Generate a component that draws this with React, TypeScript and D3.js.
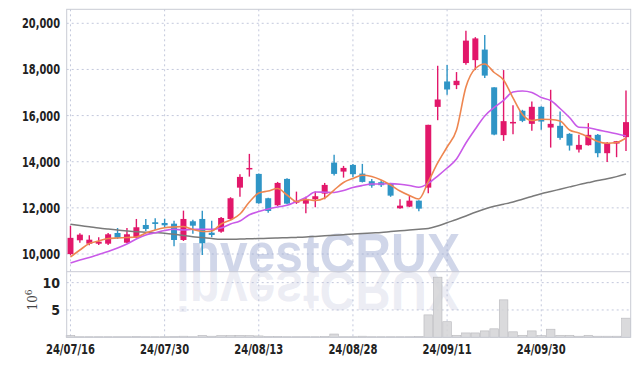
import React from "react";
import * as d3 from "d3";

// trading days shown (yy/mm/dd)
const dates = [
  "24/07/16", "24/07/17", "24/07/18", "24/07/19", "24/07/22", "24/07/23", "24/07/24", "24/07/25", "24/07/26", "24/07/29",
  "24/07/30", "24/07/31", "24/08/01", "24/08/02", "24/08/05", "24/08/06", "24/08/07", "24/08/08", "24/08/09", "24/08/12",
  "24/08/13", "24/08/14", "24/08/16", "24/08/19", "24/08/20", "24/08/21", "24/08/22", "24/08/23", "24/08/26", "24/08/27",
  "24/08/28", "24/08/29", "24/08/30", "24/09/02", "24/09/03", "24/09/04", "24/09/05", "24/09/06", "24/09/09", "24/09/10",
  "24/09/11", "24/09/12", "24/09/13", "24/09/19", "24/09/20", "24/09/23", "24/09/24", "24/09/25", "24/09/26", "24/09/27",
  "24/09/30", "24/10/02", "24/10/04", "24/10/07", "24/10/08", "24/10/10", "24/10/11", "24/10/14", "24/10/15", "24/10/16",
];

const opens = [
  10000, 10595, 10447, 10447, 10447, 10911, 10490, 10707, 11258, 11376,
  11345, 11315, 10608, 11419, 11519, 10924, 10968, 11519, 12877, 13711,
  13472, 12417, 12114, 13255, 12270, 12183, 12374, 12617, 13962, 13572,
  13862, 13485, 13155, 13112, 13038, 11983, 12053, 12313, 12877, 16377,
  17479, 17320, 18277, 18404, 18861, 17224, 15153, 15700, 16207, 15642,
  16380, 15482, 15556, 15208, 14526, 14717, 15165, 14370, 14787, 15065,
];
const highs = [
  11220, 10898, 10812, 10725, 10911, 11128, 11128, 11519, 11519, 11549,
  11530, 11445, 11880, 11489, 11880, 11445, 11606, 12461, 13459, 14340,
  13490, 12440, 13125, 13280, 12704, 12487, 12704, 13081, 14297, 13819,
  13906, 13906, 13255, 13200, 13081, 12374, 12517, 12330, 15599, 18159,
  18188, 17886, 19679, 19400, 19493, 17224, 17973, 16446, 16250, 16610,
  16400, 17118, 16176, 15240, 15165, 15672, 15200, 14850, 14900, 17087,
];
const lows = [
  9950, 10490, 10378, 10390, 10390, 10651, 10464, 10681, 10998, 11042,
  11128, 10334, 10564, 10881, 9957, 10725, 10924, 11476, 12487, 13355,
  12180, 11792, 12083, 12160, 12170, 11766, 12027, 12374, 13398, 13311,
  13329, 13100, 12877, 12900, 12480, 11960, 12030, 11853, 12634, 15800,
  16901, 17148, 18200, 17973, 17625, 15150, 14904, 15195, 15716, 15338,
  15382, 14613, 14948, 14483, 14396, 14700, 14197, 13993, 14197, 14470,
];
const closes = [
  10700, 10838, 10621, 10534, 10855, 10707, 10855, 11159, 11085, 11302,
  11245, 10608, 11519, 11228, 10464, 10825, 11562, 12417, 13342, 13730,
  12200, 11866, 13081, 12183, 12290, 12387, 12504, 12995, 13472, 13732,
  13459, 13125, 12964, 12982, 12530, 12096, 12313, 11966, 15599, 16697,
  17131, 17508, 19249, 19345, 17733, 15178, 15759, 15725, 15772, 16380,
  15742, 15642, 15034, 14700, 14730, 15165, 14370, 14804, 14890, 15716,
];

// moving averages
const maShort = [
  9870, 10173, 10455, 10564, 10672, 10694, 10715, 10737, 10910, 11040,
  11136, 11170, 11192, 11062, 10975, 10997, 11300, 11474, 11734, 12254,
  12644, 12731, 12839, 12558, 12276, 12363, 12319, 12428, 12774, 13100,
  13273, 13416, 13360, 13208, 12991, 12731, 12536, 12384, 13134, 13945,
  14638, 15375, 17239, 18041, 18237, 17868, 17543, 16763, 16047, 15787,
  15839, 15831, 15766, 15375, 15245, 15072, 14877, 14799, 14834, 15029,
];
const maMid = [
  9610, 9740, 9848, 9978, 10108, 10260, 10434, 10650, 10824, 10923,
  11019, 11071, 11040, 11075, 11075, 11075, 11127, 11301, 11431, 11704,
  11842, 11951, 12037, 12111, 12276, 12449, 12688, 12679, 12666, 12753,
  12883, 12969, 13035, 13035, 13052, 13026, 12969, 12891, 13065, 13381,
  13728, 14118, 14812, 15419, 15982, 16351, 16663, 17023, 17066, 17001,
  16784, 16654, 16307, 15917, 15492, 15475, 15380, 15297, 15210, 15115,
];
const maLong = [
  11288, 11231, 11179, 11123, 11079, 11040, 10997, 10962, 10945, 10923,
  10902, 10858, 10802, 10750, 10715, 10672, 10642, 10637, 10650, 10659,
  10672, 10681, 10694, 10707, 10720, 10737, 10763, 10789, 10811, 10837,
  10863, 10884, 10910, 10932, 10971, 11006, 11040, 11075, 11110, 11214,
  11357, 11496, 11647, 11808, 11951, 12068, 12159, 12254, 12376, 12493,
  12610, 12709, 12809, 12909, 13008, 13095, 13182, 13260, 13355, 13468,
];

// volume in millions of shares
const volumes = [
  0.35, 0.1, 0.1, 0.1, 0.1, 0.1, 0.1, 0.15, 0.1, 0.1,
  0.1, 0.15, 0.2, 0.1, 0.35, 0.2, 0.3, 0.3, 0.35, 0.3,
  0.25, 0.15, 0.15, 0.1, 0.1, 0.1, 0.1, 0.15, 0.6, 0.1,
  0.1, 0.2, 0.1, 0.1, 0.1, 0.1, 0.1, 0.15, 4.1, 11.0,
  2.85, 0.37, 0.8, 0.8, 1.17, 1.55, 6.85, 1.0, 0.37, 1.17,
  0.3, 1.48, 0.37, 0.37, 0.2, 0.37, 0.2, 0.2, 0.2, 3.5,
];

const priceTicks = [10000, 12000, 14000, 16000, 18000, 20000];
const volumeTicks = [5, 10];
const dateTickIdx = [0, 10, 20, 30, 40, 50];

const W = 639;
const H = 366;
const left = 66.7;
const right = 630.7;
const top = 9.3;
const split = 271.7;
const bottom = 337.3;

const UP = "#e2176a";
const DOWN = "#2f95c6";
const GRID = "#c3c8dc";
const FONT = "'Liberation Sans Narrow', 'DejaVu Sans Condensed', 'Roboto', sans-serif";

const App = () => {
  const x = d3.scaleLinear().domain([-0.4, 59.5]).range([left, right]);
  const y = d3.scaleLinear().domain([9233, 20607]).range([split, top]);
  const yv = d3.scaleLinear().domain([0, 12]).range([bottom, split]);

  const line = (vals: number[]) =>
    d3
      .line<number>()
      .x((_, i) => x(i))
      .y((d) => y(d))
      .curve(d3.curveMonotoneX)(vals) || "";

  const bodyW = 6;
  const volW = 8.6;
  const wmX = 318;

  return (
    <svg width={W} height={H} style={{ position: "absolute", left: 0, top: 0, background: "#fff" }}>
      <defs>
        <clipPath id="plot">
          <rect x={left} y={top} width={right - left} height={bottom - top} />
        </clipPath>
        <text id="wm" x={wmX} y={split} fontSize={56} textAnchor="middle" textLength={284}
          lengthAdjust="spacingAndGlyphs" fontFamily="'Liberation Sans', Arial, sans-serif"
          fontWeight="bold">investCRUX</text>
      </defs>

      {/* grid */}
      {priceTicks.map((t) => (
        <line key={"pg" + t} x1={left} x2={right} y1={y(t)} y2={y(t)} stroke={GRID} strokeDasharray="2,3" />
      ))}
      {volumeTicks.map((t) => (
        <line key={"vg" + t} x1={left} x2={right} y1={yv(t)} y2={yv(t)} stroke={GRID} strokeDasharray="2,3" />
      ))}
      {dateTickIdx.map((i) => (
        <line key={"xg" + i} x1={x(i)} x2={x(i)} y1={top} y2={bottom} stroke={GRID} strokeDasharray="2,3" />
      ))}

      {/* watermark + reflection */}
      <g clipPath="url(#plot)">
        <use href="#wm" fill="#97a3cf" fillOpacity={0.45} />
        <use href="#wm" fill="#a9aecf" fillOpacity={0.22}
          transform={`translate(0,${2 * split}) scale(1,-1)`} />
      </g>

      {/* volume */}
      {volumes.map((v, i) => (
        <rect key={"v" + i} x={x(i) - volW / 2} y={yv(v)} width={volW} height={yv(0) - yv(v)}
          fill="#d4d4d6" fillOpacity={0.85} stroke="#b8b8bc" strokeWidth={0.6} />
      ))}

      {/* candles */}
      {opens.map((o, i) => {
        const c = closes[i];
        const col = c >= o ? UP : DOWN;
        const yt = y(Math.max(o, c));
        const yb = y(Math.min(o, c));
        return (
          <g key={"c" + i}>
            <line x1={x(i)} x2={x(i)} y1={y(highs[i])} y2={y(lows[i])} stroke={col} strokeWidth={1.4} />
            <rect x={x(i) - bodyW / 2} y={yt} width={bodyW} height={Math.max(1.5, yb - yt)} fill={col} />
          </g>
        );
      })}

      {/* moving averages */}
      <path d={line(maLong)} fill="none" stroke="#7a7a7a" strokeWidth={1.5} />
      <path d={line(maMid)} fill="none" stroke="#c95ae8" strokeWidth={1.6} />
      <path d={line(maShort)} fill="none" stroke="#ee8650" strokeWidth={1.6} />

      {/* frame */}
      <rect x={left} y={top} width={right - left} height={bottom - top} fill="none" stroke="#c9cbd4" />
      <line x1={left} x2={right} y1={split} y2={split} stroke="#c9cbd4" />

      {/* axis labels */}
      <g fontFamily={FONT} fontWeight="bold" fontSize={14} fill="#222">
        {priceTicks.map((t) => (
          <text key={"pl" + t} x={60} y={y(t) + 5} textAnchor="end" textLength={38}
            lengthAdjust="spacingAndGlyphs">{d3.format(",")(t)}</text>
        ))}
        {volumeTicks.map((t) => (
          <text key={"vl" + t} x={60} y={yv(t) + 5} textAnchor="end">{t}</text>
        ))}
        {dateTickIdx.map((i) => (
          <text key={"dl" + i} x={x(i)} y={354} textAnchor="middle" textLength={49}
            lengthAdjust="spacingAndGlyphs">{dates[i]}</text>
        ))}
      </g>
      <text transform="translate(37,300) rotate(-90)" textAnchor="middle" fontFamily="'DejaVu Serif', serif"
        fontSize={12} fill="#444">
        10<tspan dy={-5} fontSize={9}>6</tspan>
      </text>
    </svg>
  );
};

export default App;
